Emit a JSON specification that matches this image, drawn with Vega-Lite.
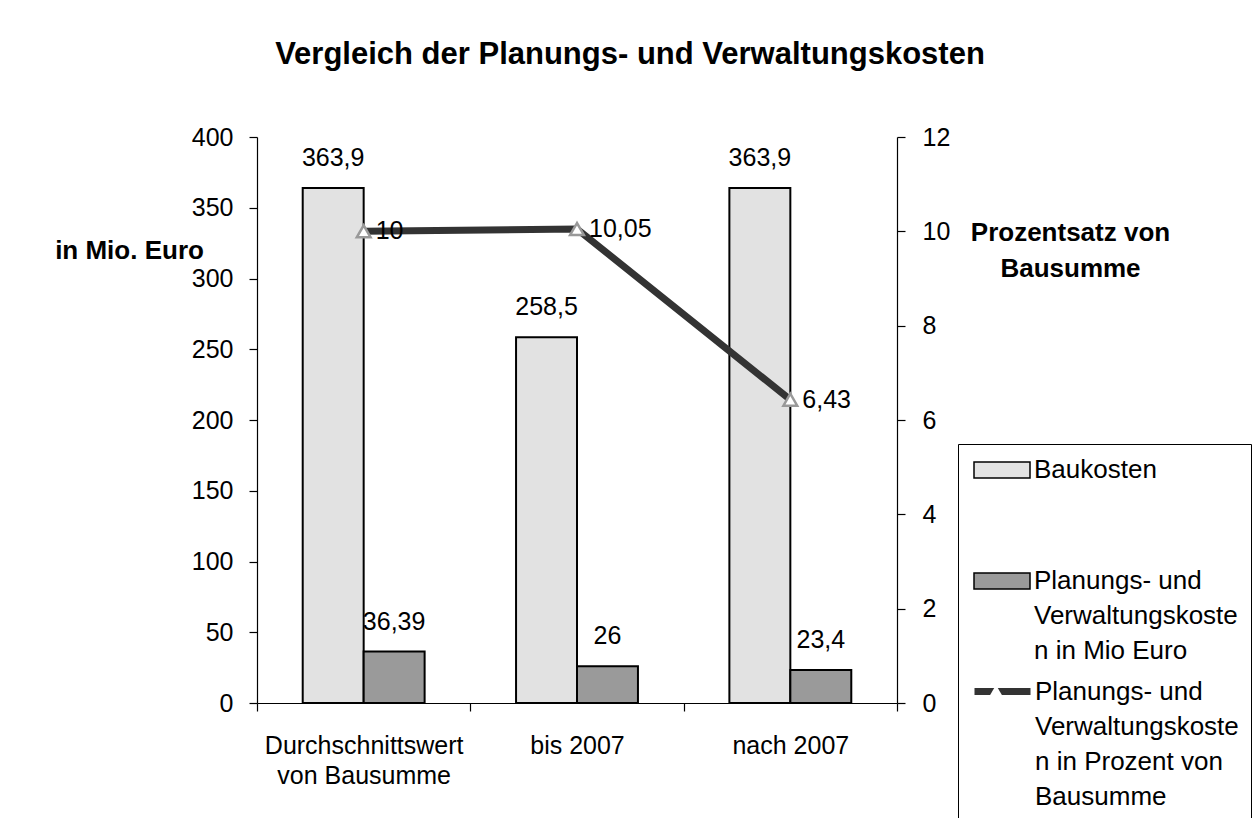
{
  "$schema": "https://vega.github.io/schema/vega-lite/v6.json",
  "width": 640,
  "height": 566,
  "autosize": {"type": "none"},
  "padding": {"left": 257, "top": 137, "right": 361, "bottom": 115},
  "background": "white",
  "config": {
    "font": "Liberation Sans",
    "view": {"stroke": null},
    "locale": {"number": {"decimal": ",", "thousands": ".", "grouping": [3], "currency": ["", " €"]}},
    "axis": {
      "labelFont": "Liberation Sans", "labelFontSize": 25, "labelColor": "black",
      "domainColor": "black", "domainWidth": 1.2, "tickColor": "black", "tickWidth": 1.2, "tickSize": 8, "grid": false,
      "titleColor": "black", "titleFont": "Liberation Sans", "titleFontSize": 26, "titleFontWeight": "bold"
    },
    "style": {"guide-label": {"lineHeight": 35}}
  },
  "title": {
    "text": "Vergleich der Planungs- und Verwaltungskosten",
    "font": "Liberation Sans", "fontSize": 31, "fontWeight": "bold", "color": "black",
    "anchor": "middle", "baseline": "bottom", "dx": 53, "offset": 23
  },
  "datasets": {
    "bars": [
      {"cat": "Durchschnittswert von Bausumme", "series": "Baukosten", "value": 363.9},
      {"cat": "Durchschnittswert von Bausumme", "series": "Planungs- und Verwaltungskosten in Mio Euro", "value": 36.39},
      {"cat": "bis 2007", "series": "Baukosten", "value": 258.5},
      {"cat": "bis 2007", "series": "Planungs- und Verwaltungskosten in Mio Euro", "value": 26},
      {"cat": "nach 2007", "series": "Baukosten", "value": 363.9},
      {"cat": "nach 2007", "series": "Planungs- und Verwaltungskosten in Mio Euro", "value": 23.4}
    ],
    "pct": [
      {"cat": "Durchschnittswert von Bausumme", "series": "Planungs- und Verwaltungskosten in Prozent von Bausumme", "pct": 10},
      {"cat": "bis 2007", "series": "Planungs- und Verwaltungskosten in Prozent von Bausumme", "pct": 10.05},
      {"cat": "nach 2007", "series": "Planungs- und Verwaltungskosten in Prozent von Bausumme", "pct": 6.43}
    ]
  },
  "encoding": {
    "x": {
      "field": "cat", "type": "nominal",
      "sort": ["Durchschnittswert von Bausumme", "bis 2007", "nach 2007"],
      "scale": {"paddingInner": 0, "paddingOuter": 0},
      "axis": {
        "title": null, "labelAngle": 0, "tickBand": "extent", "labelPadding": 22, "labelLineHeight": 30,
        "labelBaseline": "top", "labelLimit": 400,
        "labelExpr": "datum.label == 'Durchschnittswert von Bausumme' ? ['Durchschnittswert', 'von Bausumme'] : datum.label"
      }
    }
  },
  "layer": [
    {
      "data": {"name": "bars"},
      "encoding": {
        "xOffset": {
          "field": "series", "type": "nominal",
          "sort": ["Baukosten", "Planungs- und Verwaltungskosten in Mio Euro"],
          "scale": {"paddingInner": 0, "paddingOuter": 0.75}
        },
        "y": {
          "field": "value", "type": "quantitative",
          "scale": {"domain": [0, 400], "nice": false},
          "axis": {
            "orient": "left", "values": [0, 50, 100, 150, 200, 250, 300, 350, 400], "labelPadding": 16,
            "title": "in Mio. Euro", "titleAngle": 0, "titleX": -128, "titleY": 113,
            "titleAlign": "center", "titleBaseline": "middle"
          }
        }
      },
      "layer": [
        {
          "mark": {"type": "bar", "stroke": "black", "strokeWidth": 2},
          "encoding": {
            "fill": {
              "field": "series", "type": "nominal",
              "scale": {
                "domain": ["Baukosten", "Planungs- und Verwaltungskosten in Mio Euro", "Planungs- und Verwaltungskosten in Prozent von Bausumme"],
                "range": ["#e2e2e2", "#9a9a9a", "#ffffff"]
              },
              "legend": {
                "orient": "none", "legendX": 701, "legendY": 307,
                "title": null, "strokeColor": "black", "fillColor": "white", "padding": 13,
                "labelFont": "Liberation Sans", "labelFontSize": 26, "labelColor": "black", "labelLimit": 400,
                "labelOffset": 37, "rowPadding": 15, "symbolSize": 400,
                "symbolType": "M-1,-0.8H4.6V0.8H-1Z",
                "labelExpr": "datum.label == 'Baukosten' ? ['Baukosten', '', ''] : datum.label == 'Planungs- und Verwaltungskosten in Mio Euro' ? ['Planungs- und', 'Verwaltungskoste', 'n in Mio Euro'] : ['Planungs- und', 'Verwaltungskoste', 'n in Prozent von', 'Bausumme']"
              }
            }
          }
        },
        {
          "mark": {"type": "text", "baseline": "middle", "dy": -30, "fontSize": 25, "font": "Liberation Sans", "color": "black"},
          "encoding": {
            "text": {"field": "value", "type": "quantitative", "format": "~r"}
          }
        }
      ]
    },
    {
      "data": {"name": "pct"},
      "encoding": {
        "y": {
          "field": "pct", "type": "quantitative",
          "scale": {"domain": [0, 12], "nice": false},
          "axis": {
            "orient": "right", "values": [0, 2, 4, 6, 8, 10, 12], "labelPadding": 17,
            "title": ["Prozentsatz von", "Bausumme"], "titleAngle": 0, "titleX": 173, "titleY": 82,
            "titleAlign": "center", "titleBaseline": "top", "titleLineHeight": 36
          }
        }
      },
      "layer": [
        {
          "mark": {"type": "line", "strokeWidth": 7},
          "encoding": {
            "stroke": {
              "field": "series", "type": "nominal",
              "scale": {"range": ["#333333"]},
              "legend": {
                "orient": "none", "legendX": 710, "legendY": 537,
                "title": null, "fillColor": "white", "padding": 4,
                "labelFont": "Liberation Sans", "labelFontSize": 26, "labelColor": "black", "labelLimit": 400,
                "labelOffset": 37, "symbolSize": 400, "symbolStrokeWidth": 7, "symbolStrokeColor": "#333333",
                "symbolType": "M-1,0H4.6",
                "labelExpr": "['Planungs- und', 'Verwaltungskoste', 'n in Prozent von', 'Bausumme']"
              }
            }
          }
        },
        {
          "mark": {"type": "point", "size": 190, "filled": true, "fill": "white", "stroke": "#999999", "strokeWidth": 2.5, "opacity": 1},
          "encoding": {
            "shape": {
              "field": "series", "type": "nominal",
              "scale": {"range": ["triangle-up"]},
              "legend": {
                "orient": "none", "legendX": 726, "legendY": 541,
                "title": null, "padding": 0,
                "labelFontSize": 26, "labelOpacity": 0, "labelExpr": "''",
                "symbolSize": 200, "symbolFillColor": "white", "symbolStrokeColor": "#999999", "symbolStrokeWidth": 2.5,
                "symbolType": "triangle-up"
              }
            }
          }
        },
        {
          "mark": {"type": "text", "align": "left", "baseline": "middle", "dx": 12, "fontSize": 25, "font": "Liberation Sans", "color": "black"},
          "encoding": {
            "text": {"field": "pct", "type": "quantitative", "format": "~r"}
          }
        }
      ]
    }
  ],
  "resolve": {"scale": {"y": "independent"}, "axis": {"y": "independent"}}
}
